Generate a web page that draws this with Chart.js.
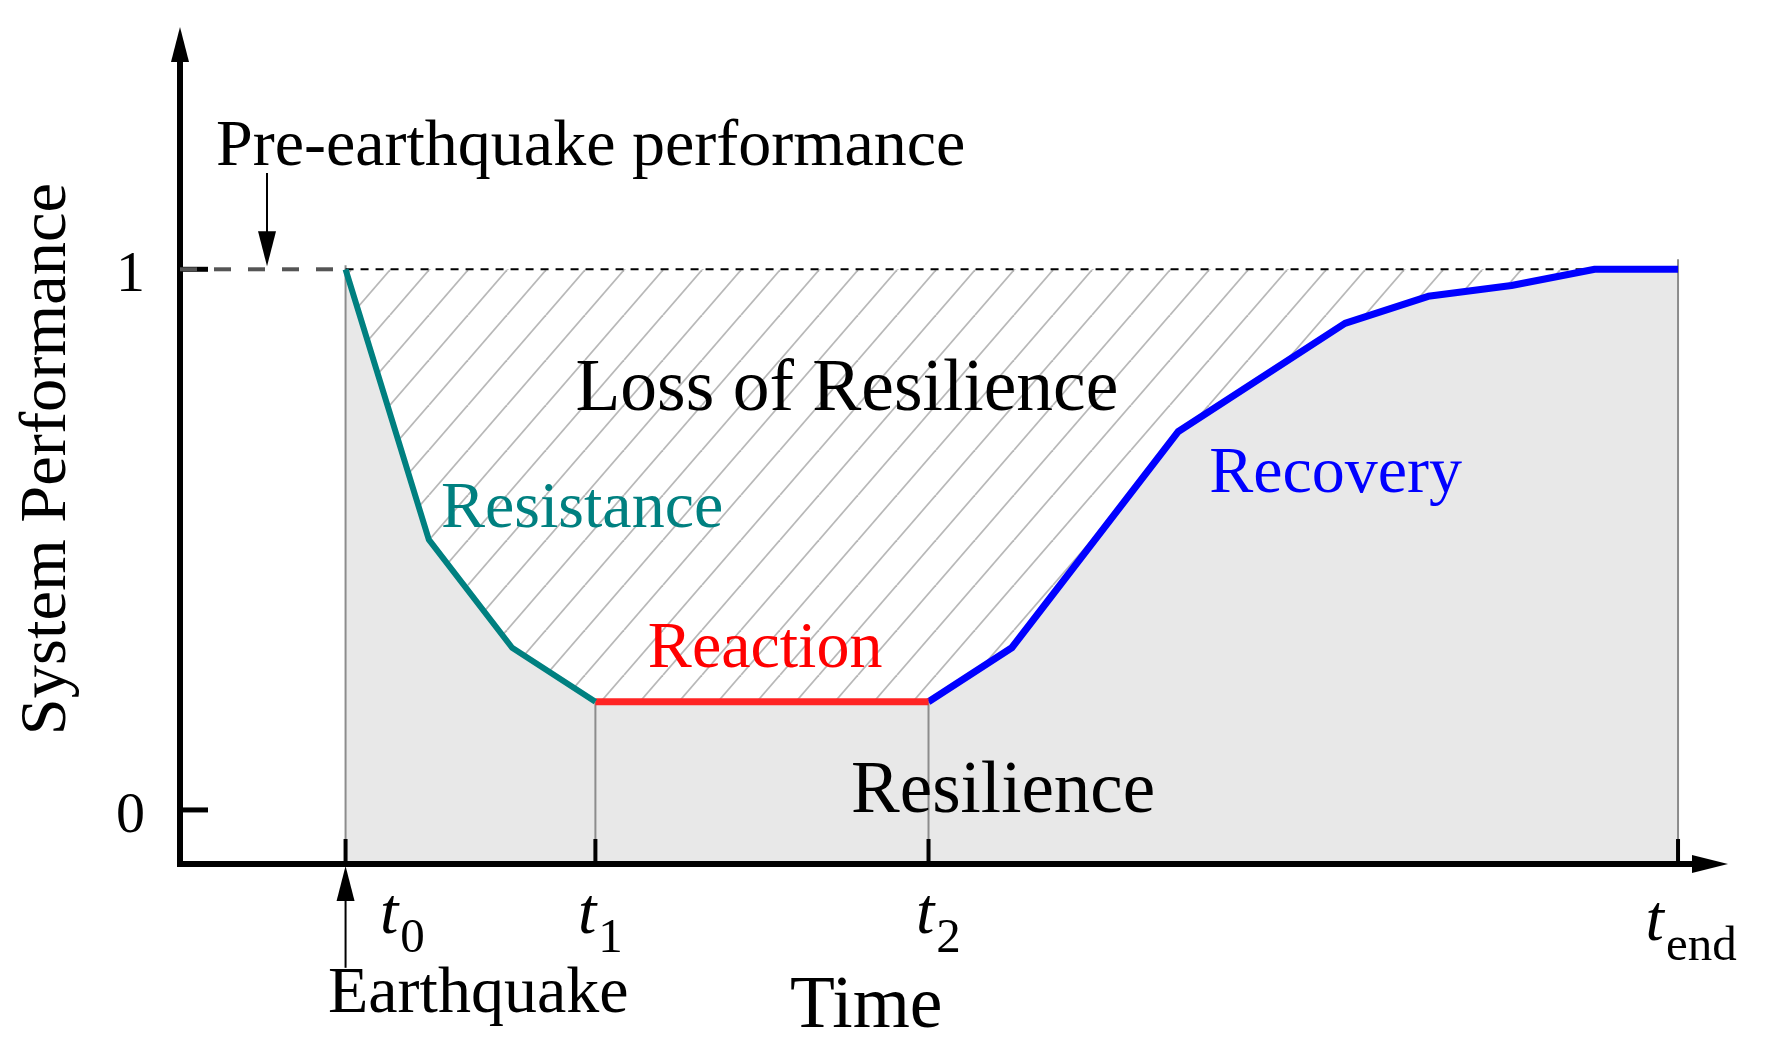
<!DOCTYPE html>
<html>
<head>
<meta charset="utf-8">
<script src="https://cdn.jsdelivr.net/npm/chart.js@4.4.0/dist/chart.umd.min.js"></script>
<style>
html,body{margin:0;padding:0;background:#fff;}
#wrap{width:1765px;height:1046px;}
</style>
</head>
<body>
<div id="wrap"><canvas id="c" width="1765" height="1046"></canvas></div>
<script>
// ---- data ----
const resistanceX = [0, 1, 2, 3];
const resistanceY = [1, 0.5, 0.3, 0.2];
const reactionX = [3, 7];
const reactionY = [0.2, 0.2];
const recoveryX = [7, 8, 10, 12, 13, 14, 15, 16];
const recoveryY = [0.2, 0.3, 0.7, 0.9, 0.95, 0.97, 1, 1];
const preEarthquakePerformance = 1;
const timeTicks = [0, 3, 7, 16];
const timeTickSubscripts = ['0', '1', '2', 'end'];
const performanceTicks = [0, 1];
const performanceTickLabels = ['0', '1'];
const axisRange = { xMin: -2, xMax: 16.6, yMin: -0.1, yMax: 1.45 };

// ---- derived ----
const toPts = (xs, ys) => xs.map((x, i) => ({ x: x, y: ys[i] }));
const curve = toPts(resistanceX, resistanceY)
  .concat(toPts(reactionX, reactionY).slice(1), toPts(recoveryX, recoveryY).slice(1));
const topLine = curve.map(p => ({ x: p.x, y: preEarthquakePerformance }));

function curveAt(t) {
  for (let i = 0; i < curve.length - 1; i++) {
    const a = curve[i], b = curve[i + 1];
    if (t >= a.x && t <= b.x) return a.y + (b.y - a.y) * (t - a.x) / (b.x - a.x);
  }
  return curve[curve.length - 1].y;
}

const canvas = document.getElementById('c');
const ctx0 = canvas.getContext('2d');

function makeHatch() {
  const w = 39, h = 45;
  const c = document.createElement('canvas');
  c.width = w; c.height = h;
  const g = c.getContext('2d');
  g.strokeStyle = '#b8b8b8';
  g.lineWidth = 1.8;
  for (const dx of [-w, 0, w]) {
    g.beginPath(); g.moveTo(dx, h); g.lineTo(dx + w, 0); g.stroke();
  }
  return ctx0.createPattern(c, 'repeat');
}
const hatch = makeHatch();

const SERIF = '"Liberation Serif", "Times New Roman", serif';

// text annotations (positions in data units)
const labels = [
  { text: 'Pre-earthquake performance', x: -1.556, y: 1.193, size: 66, color: '#000' },
  { text: 'Loss of Resilience', x: 2.76, y: 0.740, size: 73.5, color: '#000' },
  { text: 'Resistance', x: 1.146, y: 0.5235, size: 66, color: '#008080' },
  { text: 'Reaction', x: 3.63, y: 0.2645, size: 66, color: '#ff0000' },
  { text: 'Recovery', x: 10.37, y: 0.588, size: 66, color: '#0000ff' },
  { text: 'Resilience', x: 6.07, y: -0.004, size: 73, color: '#000' },
  { text: 'Time', x: 5.336, y: -0.401, size: 73.5, color: '#000' },
  { text: 'Earthquake', x: -0.211, y: -0.374, size: 66, color: '#000' }
];
const tickLabelPos = [
  { x: 0.413, y: -0.2275, sy: -0.263 },
  { x: 2.79, y: -0.2275, sy: -0.263 },
  { x: 6.85, y: -0.2275, sy: -0.263 },
  { x: 15.61, y: -0.240, sy: -0.277 }
];

function seg(ctx, x1, y1, x2, y2) {
  ctx.beginPath(); ctx.moveTo(x1, y1); ctx.lineTo(x2, y2); ctx.stroke();
}
function tri(ctx, p1, p2, p3) {
  ctx.beginPath(); ctx.moveTo(p1[0], p1[1]); ctx.lineTo(p2[0], p2[1]); ctx.lineTo(p3[0], p3[1]); ctx.closePath(); ctx.fill();
}

const decor = {
  id: 'decor',
  beforeDatasetsDraw(chart) {
    const ctx = chart.ctx, a = chart.chartArea;
    const X = chart.scales.x, Y = chart.scales.y;
    const px = v => X.getPixelForValue(v), py = v => Y.getPixelForValue(v);
    ctx.save();
    ctx.lineCap = 'butt';

    // vertical reference lines
    ctx.strokeStyle = '#8c8c8c'; ctx.lineWidth = 2;
    timeTicks.forEach((t, i) => {
      let top = py(curveAt(t));
      if (i === 0) top -= 4;
      if (i === timeTicks.length - 1) top -= 10;
      seg(ctx, px(t), top, px(t), a.bottom);
    });

    // pre-earthquake level dashed line across the event
    ctx.strokeStyle = '#000'; ctx.lineWidth = 2; ctx.setLineDash([8, 7]);
    seg(ctx, px(timeTicks[0]), py(preEarthquakePerformance), px(timeTicks[timeTicks.length - 1]), py(preEarthquakePerformance));
    ctx.setLineDash([]);

    // axes
    const ax = a.left + 1, ay = a.bottom;
    ctx.strokeStyle = '#000'; ctx.fillStyle = '#000'; ctx.lineWidth = 6;
    seg(ctx, ax, ay + 3, ax, a.top + 34);
    tri(ctx, [ax, a.top + 1], [ax - 9, a.top + 36], [ax + 9, a.top + 36]);
    seg(ctx, ax - 3, ay, a.right - 34, ay);
    tri(ctx, [a.right, ay], [a.right - 36, ay - 9], [a.right - 36, ay + 9]);

    // y ticks
    ctx.lineWidth = 5;
    performanceTicks.forEach(v => seg(ctx, ax, py(v), ax + 28, py(v)));
    // x ticks
    ctx.lineWidth = 4;
    timeTicks.forEach(t => seg(ctx, px(t), ay, px(t), ay - 25));

    // grey dashed line before the earthquake
    ctx.strokeStyle = '#555555'; ctx.lineWidth = 4; ctx.setLineDash([17, 17]);
    seg(ctx, ax, py(preEarthquakePerformance), px(timeTicks[0]) - 2, py(preEarthquakePerformance));
    ctx.setLineDash([]);

    // arrow to pre-earthquake level
    ctx.strokeStyle = '#000'; ctx.fillStyle = '#000'; ctx.lineWidth = 2;
    const pax = px(-0.943), pTip = py(preEarthquakePerformance) - 3;
    seg(ctx, pax, 173, pax, pTip - 30);
    tri(ctx, [pax, pTip], [pax - 9, pTip - 35], [pax + 9, pTip - 35]);

    // earthquake arrow
    const ex = px(timeTicks[0]), eTip = ay + 2;
    seg(ctx, ex, py(-0.292), ex, eTip + 30);
    tri(ctx, [ex, eTip], [ex - 9, eTip + 35], [ex + 9, eTip + 35]);

    // tick labels on y
    ctx.textAlign = 'right'; ctx.textBaseline = 'alphabetic';
    ctx.font = '58px ' + SERIF;
    performanceTicks.forEach((v, i) => ctx.fillText(performanceTickLabels[i], a.left - 34, py(v) + 22));

    // time tick labels t0, t1, t2, tend
    ctx.textAlign = 'left';
    timeTicks.forEach((t, i) => {
      const p = tickLabelPos[i];
      ctx.font = 'italic 66px ' + SERIF;
      const x0 = px(p.x);
      ctx.fillText('t', x0, py(p.y));
      const w = ctx.measureText('t').width;
      ctx.font = '49px ' + SERIF;
      ctx.fillText(timeTickSubscripts[i], x0 + w + 2, py(p.sy));
    });

    // annotations
    labels.forEach(l => {
      ctx.font = l.size + 'px ' + SERIF;
      ctx.fillStyle = l.color;
      ctx.fillText(l.text, px(l.x), py(l.y));
    });

    // y-axis title
    ctx.save();
    ctx.translate(65, py(0.649));
    ctx.rotate(-Math.PI / 2);
    ctx.textAlign = 'center';
    ctx.fillStyle = '#000';
    ctx.font = '66.5px ' + SERIF;
    ctx.fillText('System Performance', 0, 0);
    ctx.restore();

    ctx.restore();
  }
};

new Chart(canvas, {
  type: 'line',
  data: {
    datasets: [
      { label: 'Loss of Resilience', data: topLine, borderColor: 'rgba(0,0,0,0)', borderWidth: 0, pointRadius: 0,
        fill: { target: 1, above: hatch, below: hatch }, backgroundColor: hatch, order: 4 },
      { label: 'Resilience', data: curve, borderColor: 'rgba(0,0,0,0)', borderWidth: 0, pointRadius: 0,
        fill: 'start', backgroundColor: '#e8e8e8', order: 3 },
      { label: 'Resistance', data: toPts(resistanceX, resistanceY), borderColor: '#008080', borderWidth: 6,
        pointRadius: 0, fill: false, order: 0 },
      { label: 'Reaction', data: toPts(reactionX, reactionY), borderColor: '#ff2424', borderWidth: 7,
        pointRadius: 0, fill: false, order: 0 },
      { label: 'Recovery', data: toPts(recoveryX, recoveryY), borderColor: '#0000ff', borderWidth: 7,
        pointRadius: 0, fill: false, order: 0 }
    ]
  },
  options: {
    responsive: false,
    animation: false,
    devicePixelRatio: 1,
    events: [],
    layout: { padding: { left: 179, right: 37, top: 26, bottom: 182 } },
    scales: {
      x: { type: 'linear', min: axisRange.xMin, max: axisRange.xMax, display: false },
      y: { type: 'linear', min: axisRange.yMin, max: axisRange.yMax, display: false }
    },
    elements: { line: { tension: 0, borderJoinStyle: 'round', borderCapStyle: 'butt' } },
    plugins: {
      legend: { display: false },
      tooltip: { enabled: false },
      filler: { drawTime: 'beforeDatasetsDraw', propagate: false }
    }
  },
  plugins: [decor]
});
</script>
</body>
</html>
